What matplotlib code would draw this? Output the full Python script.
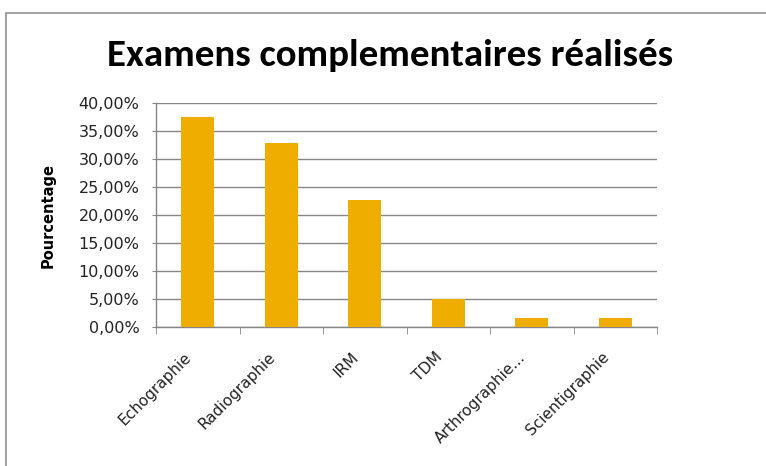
import matplotlib
matplotlib.use('Agg')
import matplotlib.pyplot as plt
from matplotlib.patches import Rectangle
from matplotlib.transforms import ScaledTranslation

plt.rcParams['font.family'] = ['DejaVu Sans']

# Data
categories = ['Echographie', 'Radiographie', 'IRM', 'TDM', 'Arthrographie...', 'Scientigraphie']
values = [37.5, 32.9, 22.6, 5.0, 1.65, 1.65]
y_ticks = [0, 5, 10, 15, 20, 25, 30, 35, 40]
y_tick_labels = ['0,00%', '5,00%', '10,00%', '15,00%', '20,00%', '25,00%', '30,00%', '35,00%', '40,00%']

bar_color = '#EFAD00'
grey = '#868686'

fig = plt.figure(figsize=(7.66, 4.66), dpi=100)
ax = fig.add_axes([0.2037, 0.298, 0.654, 0.481])

# Outer chart border (cut at the right and bottom like the screenshot)
fig.patches.append(Rectangle((6 / 766, -0.05), 1.1, 1 - 13 / 466 + 0.05, transform=fig.transFigure,
                             fill=False, edgecolor='#909090', lw=1.2))

x = list(range(len(categories)))
ax.bar(x, values, width=0.39, color=bar_color, zorder=3)

ax.set_xlim(-0.5, len(categories) - 0.5)
ax.set_ylim(0, 40)

# y axis
ax.set_yticks(y_ticks)
ax.set_yticklabels(y_tick_labels, fontsize=11.5, color='#222222')
ax.tick_params(axis='y', direction='out', length=3, color=grey, pad=9)
ax.yaxis.grid(True, color=grey, lw=1, zorder=0)

# x axis: labels at centres, tick marks at boundaries
ax.set_xticks(x)
ax.set_xticklabels(categories, rotation=45, ha='right', rotation_mode='anchor', fontsize=11, color='#222222')
ax.tick_params(axis='x', which='major', length=0, pad=16)
ax.set_xticks([i - 0.5 for i in range(len(categories) + 1)], minor=True)
ax.tick_params(axis='x', which='minor', direction='out', length=5, color=grey)
for lab in ax.get_xticklabels():
    lab.set_transform(lab.get_transform() + ScaledTranslation(-14 / 100, 0, fig.dpi_scale_trans))

for side in ['top', 'right']:
    ax.spines[side].set_visible(False)
for side in ['left', 'bottom']:
    ax.spines[side].set_color(grey)
    ax.spines[side].set_linewidth(1)

ax.set_ylabel('Pourcentage', fontsize=10.5, fontweight='bold')
ax.yaxis.set_label_coords(-0.2, 0.5)

fig.text(390 / 766, 1 - 55 / 466, 'Examens complementaires réalisés', ha='center', va='center',
         fontsize=28, fontweight='bold', family=['Carlito', 'DejaVu Sans'])

fig.savefig('out.png', dpi=100)
